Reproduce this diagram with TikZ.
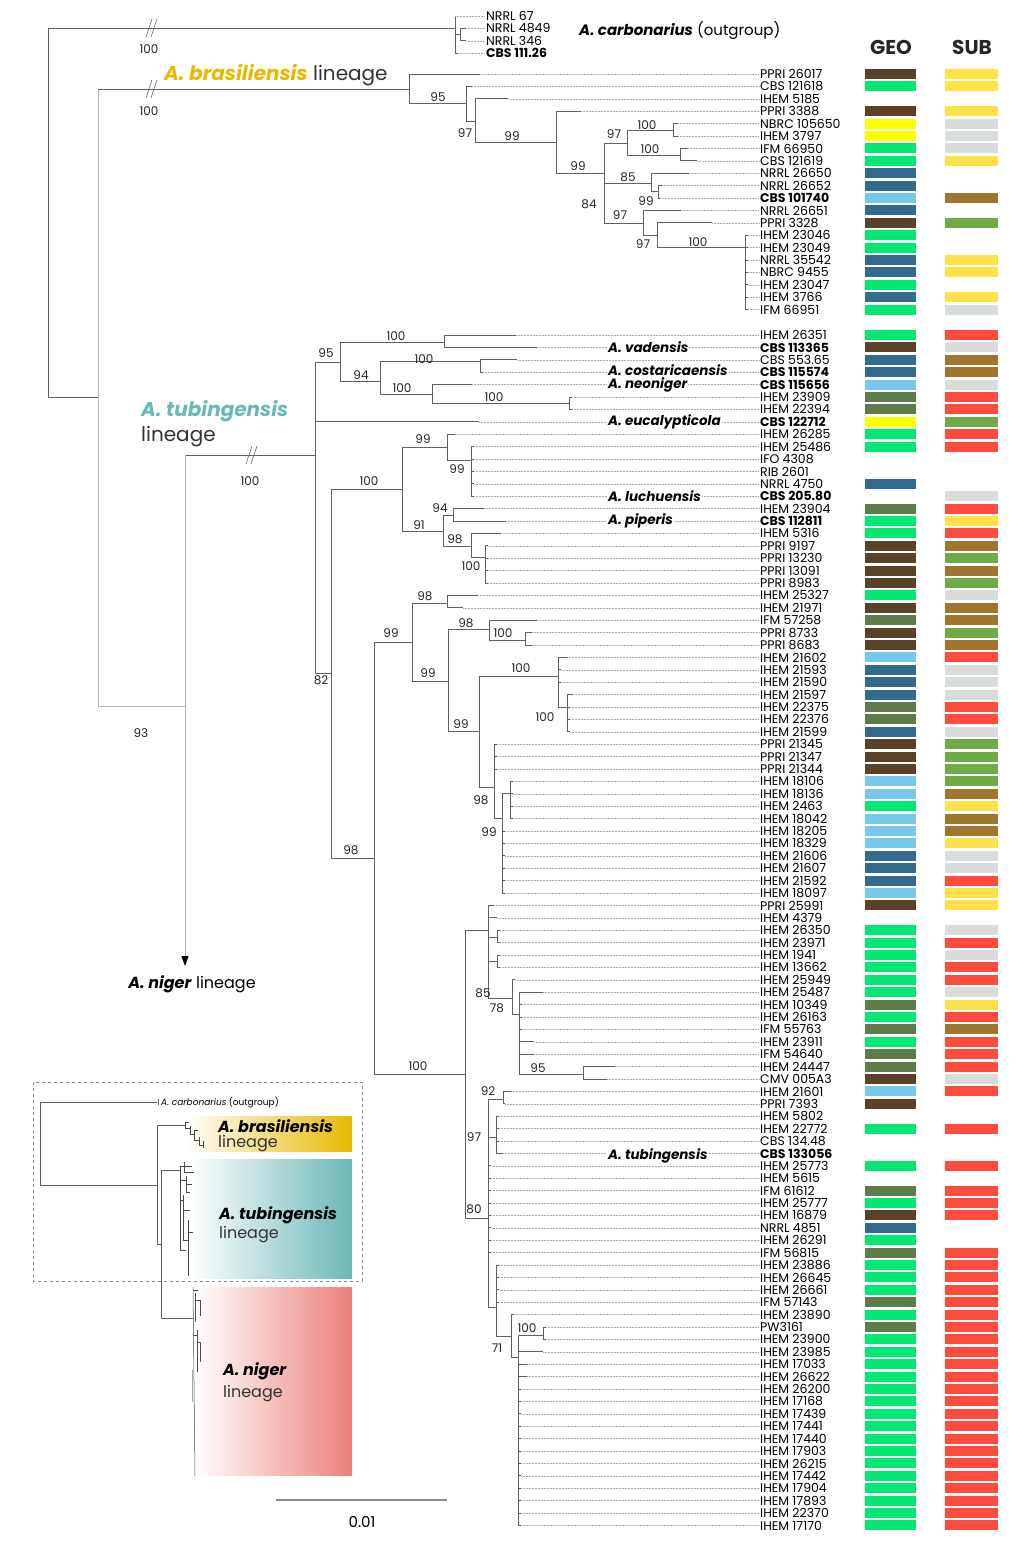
\documentclass[tikz,border=0pt]{standalone}
\usepackage{fontspec}
\setmainfont{Poppins}
\usetikzlibrary{arrows.meta}
\definecolor{gB}{RGB}{92,65,41}
\definecolor{gG}{RGB}{3,232,115}
\definecolor{gY}{RGB}{255,255,0}
\definecolor{gD}{RGB}{51,107,142}
\definecolor{gL}{RGB}{119,200,236}
\definecolor{gO}{RGB}{94,123,74}
\definecolor{sY}{RGB}{255,226,74}
\definecolor{sG}{RGB}{217,221,217}
\definecolor{sO}{RGB}{160,117,46}
\definecolor{sN}{RGB}{110,170,70}
\definecolor{sR}{RGB}{255,75,62}
\definecolor{gold}{RGB}{232,185,0}
\definecolor{teal}{RGB}{107,184,182}
\definecolor{pinkn}{RGB}{236,128,120}
\tikzset{
  br/.style={draw=black!62,line width=0.8pt},
  brl/.style={draw=black!28,line width=0.9pt},
  lead/.style={draw=black!32,line width=0.5pt,dash pattern=on 0.5pt off 1pt},
  leaflbl/.style={anchor=west,inner sep=1pt,font=\fontsize{12.5}{13}\selectfont},
  sup/.style={inner sep=0pt,font=\fontsize{12}{12}\selectfont,text=black!85},
  sp/.style={anchor=west,inner sep=1pt,fill=white,font=\fontsize{13.5}{14}\selectfont\bfseries\itshape},
  mini/.style={draw=black!70,line width=0.5pt},
  brk/.style={draw=black!62,line width=0.6pt}
}
\newcommand\leaf[7]{%
  \node[leaflbl] (#1) at (759,#2) {#5};
  \draw[br] (#3,#2) -- (#4,#2);
  \draw[lead] (#4,#2) -- (#1.west);
  \path[fill=#6] (865,#2-5) rectangle (916,#2+5);
  \path[fill=#7] (945,#2-5) rectangle (998,#2+5);
}
\newcommand\brkmark[2]{%
  \draw[brk] (#1-6,#2+9) -- (#1,#2-9);
  \draw[brk] (#1-1,#2+9) -- (#1+5,#2-9);
}
\begin{document}
\begin{tikzpicture}[x=1pt,y=-1pt]
\useasboundingbox (0,0) rectangle (1023,1547);
\fill[white] (0,0) rectangle (1023,1547);

% ---------- root and stems ----------
\draw[br] (455,28) -- (48,28) -- (48,397) -- (98,397);
\draw[brl] (98,89) -- (98,706) -- (185,706);
\draw[br] (98,89) -- (409,89);
\brkmark{152}{28}
\brkmark{152}{89}
\node[sup] at (149,49) {100};
\node[sup] at (149,111) {100};
\node[sup] at (141,733) {93};

% ---------- outgroup ----------
\draw[br] (455,16) -- (455,53.2);
\draw[br] (455,34.6) -- (460,34.6);
\draw[br] (460,28.4) -- (460,40.8);
\node[leaflbl] (o1) at (485,16) {NRRL 67};
\node[leaflbl] (o2) at (485,28.4) {NRRL 4849};
\node[leaflbl] (o3) at (485,40.8) {NRRL 346};
\node[leaflbl] (o4) at (485,53.2) {\bfseries CBS 111.26};
\draw[lead] (455,16) -- (o1.west);
\draw[lead] (466,28.4) -- (o2.west);
\draw[lead] (466,40.8) -- (o3.west);
\draw[lead] (458,53.2) -- (o4.west);
\draw[br] (460,28.4) -- (466,28.4);
\draw[br] (460,40.8) -- (466,40.8);
\draw[br] (455,53.2) -- (458,53.2);
\node[anchor=west,inner sep=0pt,font=\fontsize{15}{16}\selectfont] (carb) at (579,31) {\textbf{\textit{A. carbonarius}} (outgroup)};

\node[font=\fontsize{20}{20}\selectfont\bfseries,text=black!85] (geo) at (891,47) {GEO};
\node[font=\fontsize{20}{20}\selectfont\bfseries,text=black!85] (sub) at (972,47) {SUB};

% ---------- brasiliensis lineage ----------
\node[anchor=west,inner sep=0pt,font=\fontsize{20}{20}\selectfont] (brl) at (164,75) {\textcolor{gold}{\bfseries\itshape A. brasiliensis} \textcolor{black!80}{lineage}};
\draw[br] (409,74) -- (409,103) -- (466,103);
\draw[br] (466,86.4) -- (466,121) -- (475,121);
\draw[br] (475,98.8) -- (475,142) -- (556,142);
\draw[br] (556,111.2) -- (556,173) -- (604,173);
\draw[br] (604,143) -- (604,223);
\draw[br] (604,143) -- (627,143);
\draw[br] (604,183) -- (651,183);
\draw[br] (604,223) -- (643,223);
\draw[br] (627,130) -- (627,155);
\draw[br] (627,130) -- (673,130);
\draw[br] (627,155) -- (680,155);
\draw[br] (673,123.6) -- (673,136);
\draw[br] (680,148.4) -- (680,160.8);
\draw[br] (651,173.2) -- (651,191) -- (658,191);
\draw[br] (658,185.6) -- (658,198);
\draw[br] (643,210.4) -- (643,235) -- (657,235);
\draw[br] (657,222.8) -- (657,247.6) -- (745,247.6);
\draw[br] (745,235.2) -- (745,309.6);

\leaf{b1}{74}{409}{480}{PPRI 26017}{gB}{sY}
\leaf{b2}{86.4}{466}{472}{CBS 121618}{gG}{sY}
\leaf{b3}{98.8}{475}{508}{IHEM 5185}{none}{none}
\leaf{b4}{111.2}{556}{581}{PPRI 3388}{gB}{sY}
\leaf{b5}{123.6}{673}{678}{NBRC 105650}{gY}{sG}
\leaf{b6}{136}{673}{678}{IHEM 3797}{gY}{sG}
\leaf{b7}{148.4}{680}{688}{IFM 66950}{gG}{sG}
\leaf{b8}{160.8}{680}{697}{CBS 121619}{gG}{sY}
\leaf{b9}{173.2}{651}{689}{NRRL 26650}{gD}{none}
\leaf{b10}{185.6}{658}{662}{NRRL 26652}{gD}{none}
\leaf{b11}{198}{658}{660}{\bfseries CBS 101740}{gL}{sO}
\leaf{b12}{210.4}{643}{681}{NRRL 26651}{gD}{none}
\leaf{b13}{222.8}{657}{712}{PPRI 3328}{gB}{sN}
\leaf{b14}{235.2}{745}{748}{IHEM 23046}{gG}{none}
\leaf{b15}{247.6}{745}{748}{IHEM 23049}{gG}{none}
\leaf{b16}{260}{745}{748}{NRRL 35542}{gD}{sY}
\leaf{b17}{272.4}{745}{748}{NBRC 9455}{gD}{sY}
\leaf{b18}{284.8}{745}{748}{IHEM 23047}{gG}{none}
\leaf{b19}{297.2}{745}{748}{IHEM 3766}{gD}{sY}
\leaf{b20}{309.6}{745}{748}{IFM 66951}{gG}{sG}

\node[sup] at (438,97) {95};
\node[sup] at (465,133) {97};
\node[sup] at (512,136) {99};
\node[sup] at (578,166) {99};
\node[sup] at (614,134) {97};
\node[sup] at (647,125) {100};
\node[sup] at (650,149) {100};
\node[sup] at (628,177) {85};
\node[sup] at (646,201) {99};
\node[sup] at (589,204) {84};
\node[sup] at (620,215) {97};
\node[sup] at (643,244) {97};
\node[sup] at (698,242) {100};

% ---------- tubingensis lineage ----------
\node[anchor=west,inner sep=0pt,font=\fontsize{20}{20}\selectfont\bfseries\itshape,text=teal] (tubt) at (141,411) {A. tubingensis};
\node[anchor=west,inner sep=0pt,font=\fontsize{20}{20}\selectfont,text=black!80] (tubl) at (141,437) {lineage};
\draw[br] (185,455) -- (315,455);
\brkmark{252}{455}
\node[sup] at (250,481) {100};
\draw[brl,-{Triangle[length=10pt,width=7pt,color=black]}] (185,455) -- (185,966);
\node[anchor=north,inner sep=0pt,font=\fontsize{16}{16}\selectfont] (nig) at (192,975) {\textbf{\textit{A. niger}} lineage};

\draw[br] (315,362) -- (315,673);
\draw[br] (315,362) -- (340,362);
\draw[br] (315,673) -- (331,673);
\draw[br] (340,342) -- (340,381);
\draw[br] (340,342) -- (444,342);
\draw[br] (340,381) -- (380,381);
\draw[br] (444,335) -- (444,347.4);
\draw[br] (380,361) -- (380,394);
\draw[br] (380,361) -- (480,361);
\draw[br] (380,394) -- (432,394);
\draw[br] (480,359.8) -- (480,372.2);
\draw[br] (432,384.6) -- (432,403) -- (569,403);
\draw[br] (569,397) -- (569,409.4);
\draw[br] (331,489) -- (331,858);
\draw[br] (331,489) -- (402,489);
\draw[br] (331,858) -- (374,858);
\draw[br] (402,447) -- (402,531);
\draw[br] (402,447) -- (447,447);
\draw[br] (402,531) -- (443,531);
\draw[br] (447,434.2) -- (447,460) -- (471,460);
\draw[br] (471,446.6) -- (471,496.2);
\draw[br] (443,515) -- (443,546);
\draw[br] (443,515) -- (453,515);
\draw[br] (443,546) -- (471,546);
\draw[br] (453,508.6) -- (453,521);
\draw[br] (471,533.4) -- (471,557) -- (485,557);
\draw[br] (485,545.8) -- (485,583);
\draw[br] (374,642) -- (374,1074);
\draw[br] (374,642) -- (412,642);
\draw[br] (374,1074) -- (465,1074);
\draw[br] (412,603) -- (412,681);
\draw[br] (412,603) -- (447,603);
\draw[br] (412,681) -- (448,681);
\draw[br] (447,595.4) -- (447,607.8);
\draw[br] (448,629) -- (448,731);
\draw[br] (448,629) -- (489,629);
\draw[br] (448,731) -- (479,731);
\draw[br] (489,620.2) -- (489,640) -- (525,640);
\draw[br] (525,632.6) -- (525,645);
\draw[br] (479,676) -- (479,787);
\draw[br] (479,676) -- (558,676);
\draw[br] (479,787) -- (494,787);
\draw[br] (558,657.4) -- (558,707) -- (567,707);
\draw[br] (567,694.6) -- (567,731.8);
\draw[br] (494,744.2) -- (494,818) -- (502,818);
\draw[br] (502,793) -- (502,893);
\draw[br] (502,793) -- (510,793);
\draw[br] (510,781.4) -- (510,818.6);
\draw[br] (465,930) -- (465,1218);
\draw[br] (465,930) -- (488,930);
\draw[br] (465,1218) -- (488,1218);
\draw[br] (488,905.4) -- (488,998) -- (512,998);
\draw[br] (488,937) -- (497,937);
\draw[br] (488,961) -- (497,961);
\draw[br] (497,930.2) -- (497,942.6);
\draw[br] (497,955) -- (497,967.4);
\draw[br] (512,979.8) -- (512,1014) -- (519,1014);
\draw[br] (519,992.2) -- (519,1074) -- (583,1074);
\draw[br] (583,1066.6) -- (583,1079);
\draw[br] (488,1099) -- (488,1307);
\draw[br] (488,1099) -- (503,1099);
\draw[br] (488,1137) -- (496,1137);
\draw[br] (488,1307) -- (496,1307);
\draw[br] (503,1091.4) -- (503,1103.8);
\draw[br] (496,1116.2) -- (496,1153.4);
\draw[br] (496,1265) -- (496,1336) -- (511,1336);
\draw[br] (511,1314.6) -- (511,1357) -- (518,1357);
\draw[br] (518,1335) -- (518,1525.4);
\draw[br] (518,1335) -- (543,1335);
\draw[br] (543,1327) -- (543,1339.4);

\leaf{t1}{335}{444}{516}{IHEM 26351}{gG}{sR}
\leaf{t2}{347.4}{444}{537}{\bfseries CBS 113365}{gB}{sG}
\leaf{t3}{359.8}{480}{517}{CBS 553.65}{gD}{sO}
\leaf{t4}{372.2}{480}{483}{\bfseries CBS 115574}{gD}{sO}
\leaf{t5}{384.6}{432}{472}{\bfseries CBS 115656}{gL}{sG}
\leaf{t6}{397}{569}{572}{IHEM 23909}{gO}{sR}
\leaf{t7}{409.4}{569}{572}{IHEM 22394}{gO}{sR}
\leaf{t8}{421.8}{315}{479}{\bfseries CBS 122712}{gY}{sN}
\leaf{t9}{434.2}{447}{455}{IHEM 26285}{gG}{sR}
\leaf{t10}{446.6}{471}{474}{IHEM 25486}{gG}{sR}
\leaf{t11}{459}{471}{474}{IFO 4308}{none}{none}
\leaf{t12}{471.4}{471}{474}{RIB 2601}{none}{none}
\leaf{t13}{483.8}{471}{474}{NRRL 4750}{gD}{none}
\leaf{t14}{496.2}{471}{474}{\bfseries CBS 205.80}{none}{sG}
\leaf{t15}{508.6}{453}{484}{IHEM 23904}{gO}{sR}
\leaf{t16}{521}{453}{506}{\bfseries CBS 112811}{gG}{sY}
\leaf{t17}{533.4}{471}{501}{IHEM 5316}{gG}{sR}
\leaf{t18}{545.8}{485}{488}{PPRI 9197}{gB}{sO}
\leaf{t19}{558.2}{485}{488}{PPRI 13230}{gB}{sN}
\leaf{t20}{570.6}{485}{488}{PPRI 13091}{gB}{sO}
\leaf{t21}{583}{485}{488}{PPRI 8983}{gB}{sN}
\leaf{t22}{595.4}{447}{478}{IHEM 25327}{gG}{sG}
\leaf{t23}{607.8}{447}{463}{IHEM 21971}{gB}{sO}
\leaf{t24}{620.2}{489}{537}{IFM 57258}{gO}{sO}
\leaf{t25}{632.6}{525}{532}{PPRI 8733}{gB}{sN}
\leaf{t26}{645}{525}{532}{PPRI 8683}{gB}{sO}
\leaf{t27}{657.4}{558}{567}{IHEM 21602}{gL}{sR}
\leaf{t28}{669.8}{558}{561}{IHEM 21593}{gD}{sG}
\leaf{t29}{682.2}{558}{561}{IHEM 21590}{gD}{sG}
\leaf{t30}{694.6}{567}{573}{IHEM 21597}{gD}{sG}
\leaf{t31}{707}{567}{570}{IHEM 22375}{gO}{sR}
\leaf{t32}{719.4}{567}{570}{IHEM 22376}{gO}{sR}
\leaf{t33}{731.8}{567}{570}{IHEM 21599}{gD}{sG}
\leaf{t34}{744.2}{494}{497}{PPRI 21345}{gB}{sN}
\leaf{t35}{756.6}{494}{497}{PPRI 21347}{gB}{sN}
\leaf{t36}{769}{494}{497}{PPRI 21344}{gB}{sN}
\leaf{t37}{781.4}{510}{513}{IHEM 18106}{gL}{sN}
\leaf{t38}{793.8}{510}{513}{IHEM 18136}{gL}{sO}
\leaf{t39}{806.2}{510}{513}{IHEM 2463}{gG}{sY}
\leaf{t40}{818.6}{510}{513}{IHEM 18042}{gL}{sO}
\leaf{t41}{831}{502}{505}{IHEM 18205}{gL}{sO}
\leaf{t42}{843.4}{502}{505}{IHEM 18329}{gL}{sY}
\leaf{t43}{855.8}{502}{505}{IHEM 21606}{gD}{sG}
\leaf{t44}{868.2}{502}{505}{IHEM 21607}{gD}{sG}
\leaf{t45}{880.6}{502}{505}{IHEM 21592}{gD}{sR}
\leaf{t46}{893}{502}{505}{IHEM 18097}{gL}{sY}
\leaf{t47}{905.4}{488}{494}{PPRI 25991}{gB}{sY}
\leaf{t48}{917.8}{488}{497}{IHEM 4379}{none}{none}
\leaf{t49}{930.2}{497}{500}{IHEM 26350}{gG}{sG}
\leaf{t50}{942.6}{497}{500}{IHEM 23971}{gG}{sR}
\leaf{t51}{955}{497}{500}{IHEM 1941}{gG}{sG}
\leaf{t52}{967.4}{497}{500}{IHEM 13662}{gG}{sR}
\leaf{t53}{979.8}{512}{515}{IHEM 25949}{gG}{sR}
\leaf{t54}{992.2}{519}{543}{IHEM 25487}{gG}{sG}
\leaf{t55}{1004.6}{519}{522}{IHEM 10349}{gO}{sY}
\leaf{t56}{1017}{519}{522}{IHEM 26163}{gG}{sR}
\leaf{t57}{1029.4}{519}{522}{IFM 55763}{gO}{sO}
\leaf{t58}{1041.8}{519}{534}{IHEM 23911}{gG}{sR}
\leaf{t59}{1054.2}{519}{534}{IFM 54640}{gO}{sR}
\leaf{t60}{1066.6}{583}{615}{IHEM 24447}{gO}{sR}
\leaf{t61}{1079}{583}{607}{CMV 005A3}{gB}{sG}
\leaf{t62}{1091.4}{503}{511}{IHEM 21601}{gL}{sR}
\leaf{t63}{1103.8}{503}{505}{PPRI 7393}{gB}{none}
\leaf{t64}{1116.2}{496}{499}{IHEM 5802}{none}{none}
\leaf{t65}{1128.6}{496}{499}{IHEM 22772}{gG}{sR}
\leaf{t66}{1141}{496}{499}{CBS 134.48}{none}{none}
\leaf{t67}{1153.4}{496}{503}{\bfseries CBS 133056}{none}{none}
\leaf{t68}{1165.8}{488}{491}{IHEM 25773}{gG}{sR}
\leaf{t69}{1178.2}{488}{491}{IHEM 5615}{none}{none}
\leaf{t70}{1190.6}{488}{491}{IFM 61612}{gO}{sR}
\leaf{t71}{1203}{488}{491}{IHEM 25777}{gG}{sR}
\leaf{t72}{1215.4}{488}{491}{IHEM 16879}{gB}{sR}
\leaf{t73}{1227.8}{488}{491}{NRRL 4851}{gD}{none}
\leaf{t74}{1240.2}{488}{491}{IHEM 26291}{gG}{none}
\leaf{t75}{1252.6}{488}{491}{IFM 56815}{gO}{sR}
\leaf{t76}{1265}{496}{499}{IHEM 23886}{gG}{sR}
\leaf{t77}{1277.4}{496}{499}{IHEM 26645}{gG}{sR}
\leaf{t78}{1289.8}{496}{499}{IHEM 26661}{gG}{sR}
\leaf{t79}{1302.2}{496}{499}{IFM 57143}{gO}{sR}
\leaf{t80}{1314.6}{511}{514}{IHEM 23890}{gG}{sR}
\leaf{t81}{1327}{543}{546}{PW3161}{gO}{sR}
\leaf{t82}{1339.4}{543}{546}{IHEM 23900}{gG}{sR}
\leaf{t83}{1351.8}{518}{543}{IHEM 23985}{gG}{sR}
\leaf{t84}{1364.2}{518}{527}{IHEM 17033}{gG}{sR}
\leaf{t85}{1376.6}{518}{527}{IHEM 26622}{gG}{sR}
\leaf{t86}{1389}{518}{521}{IHEM 26200}{gG}{sR}
\leaf{t87}{1401.4}{518}{521}{IHEM 17168}{gG}{sR}
\leaf{t88}{1413.8}{518}{521}{IHEM 17439}{gG}{sR}
\leaf{t89}{1426.2}{518}{521}{IHEM 17441}{gG}{sR}
\leaf{t90}{1438.6}{518}{521}{IHEM 17440}{gG}{sR}
\leaf{t91}{1451}{518}{521}{IHEM 17903}{gG}{sR}
\leaf{t92}{1463.4}{518}{521}{IHEM 26215}{gG}{sR}
\leaf{t93}{1475.8}{518}{521}{IHEM 17442}{gG}{sR}
\leaf{t94}{1488.2}{518}{521}{IHEM 17904}{gG}{sR}
\leaf{t95}{1500.6}{518}{521}{IHEM 17893}{gG}{sR}
\leaf{t96}{1513}{518}{521}{IHEM 22370}{gG}{sR}
\leaf{t97}{1525.4}{518}{521}{IHEM 17170}{gG}{sR}

% species names
\node[sp] (vad) at (607,347) {A. vadensis};
\node[sp] (cos) at (607,370) {A. costaricaensis};
\node[sp] (neo) at (607,385) {A. neoniger};
\node[sp] (euc) at (607,422) {A. eucalypticola};
\node[sp] (luc) at (607,496) {A. luchuensis};
\node[sp] (pip) at (607,521) {A. piperis};
\node[sp] (tub) at (607,1156) {A. tubingensis};

% supports
\node[sup] at (396,336) {100};
\node[sup] at (326,353) {95};
\node[sup] at (424,359) {100};
\node[sup] at (361,375) {94};
\node[sup] at (402,388) {100};
\node[sup] at (494,397) {100};
\node[sup] at (423,439) {99};
\node[sup] at (457,469) {99};
\node[sup] at (369,481) {100};
\node[sup] at (440,508) {94};
\node[sup] at (419,525) {91};
\node[sup] at (455,539) {98};
\node[sup] at (471,566) {100};
\node[sup] at (425,596) {98};
\node[sup] at (466,623) {98};
\node[sup] at (503,633) {100};
\node[sup] at (391,633) {99};
\node[sup] at (521,668) {100};
\node[sup] at (428,673) {99};
\node[sup] at (321,680) {82};
\node[sup] at (545,717) {100};
\node[sup] at (461,724) {99};
\node[sup] at (481,800) {98};
\node[sup] at (489,832) {99};
\node[sup] at (351,850) {98};
\node[sup] at (483,993) {85};
\node[sup] at (497,1008) {78};
\node[sup] at (418,1066) {100};
\node[sup] at (538,1068) {95};
\node[sup] at (488,1091) {92};
\node[sup] at (474,1137) {97};
\node[sup] at (474,1209) {80};
\node[sup] at (527,1328) {100};
\node[sup] at (497,1348) {71};

% ---------- inset ----------
\shade[left color=white,right color=gold] (185,1116) rectangle (352,1151);
\shade[left color=white,right color=teal] (190,1159) rectangle (352,1278);
\shade[left color=white,right color=pinkn] (195,1287) rectangle (352,1475);
\draw[black!45,dashed,line width=0.6pt] (33,1082) rectangle (362,1281);
\draw[br] (157,1102) -- (40,1102) -- (40,1185) -- (157,1185);
\draw[br] (185,1125) -- (157,1125) -- (157,1244) -- (161,1244);
\draw[br] (180,1170) -- (161,1170) -- (161,1318) -- (193,1318);
\draw[br] (158,1099) -- (158,1105);
\node[anchor=west,inner sep=0pt,font=\fontsize{9}{9}\selectfont] (icarb) at (161,1102) {\textit{A. carbonarius} (outgroup)};
% mini brasiliensis
\draw[mini] (185,1122) -- (185,1128);
\draw[mini] (185,1122) -- (189,1122);
\draw[mini] (185,1128) -- (190,1128);
\draw[mini] (190,1126) -- (190,1134) -- (194,1134);
\draw[mini] (194,1130) -- (194,1140);
\draw[mini] (194,1130) -- (198,1130);
\draw[mini] (194,1140) -- (199,1140);
\draw[mini] (199,1137) -- (199,1145) -- (203,1145);
\draw[mini] (203,1141) -- (203,1148);
% mini tubingensis
\draw[mini] (180,1166) -- (180,1250);
\draw[mini] (180,1166) -- (192,1166);
\draw[mini] (184,1162) -- (184,1172) -- (194,1172);
\draw[mini] (180,1180) -- (186,1180);
\draw[mini] (186,1176) -- (186,1192) -- (190,1192);
\draw[mini] (186,1184) -- (192,1184);
\draw[mini] (180,1200) -- (183,1200);
\draw[mini] (183,1195) -- (183,1240) -- (188,1240);
\draw[mini] (183,1210) -- (190,1210);
\draw[mini] (188,1220) -- (188,1276);
\draw[mini] (188,1232) -- (193,1232);
\draw[mini] (180,1250) -- (186,1250);
% mini niger
\draw[mini] (193,1287) -- (195,1476);
\draw[mini] (193,1290) -- (198,1290);
\draw[mini] (195,1293) -- (195,1322);
\draw[mini] (195,1300) -- (200,1300) -- (200,1316);
\draw[mini] (194,1335) -- (198,1335);
\draw[mini] (197,1330) -- (197,1372);
\draw[mini] (197,1342) -- (200,1342) -- (200,1362);
\draw[black!35,line width=0.8pt] (192,1370) -- (192,1402);
\node[anchor=west,inner sep=0pt,font=\fontsize{16}{16}\selectfont\bfseries\itshape] (ibra) at (218,1126) {A. brasiliensis};
\node[anchor=west,inner sep=0pt,font=\fontsize{16}{16}\selectfont,text=black!80] (ibral) at (218,1144) {lineage};
\node[anchor=west,inner sep=0pt,font=\fontsize{16}{16}\selectfont\bfseries\itshape] (itub) at (219,1215) {A. tubingensis};
\node[anchor=west,inner sep=0pt,font=\fontsize{16}{16}\selectfont,text=black!80] (itubl) at (219,1235) {lineage};
\node[anchor=west,inner sep=0pt,font=\fontsize{16}{16}\selectfont\bfseries\itshape] (inig) at (223,1371) {A. niger};
\node[anchor=west,inner sep=0pt,font=\fontsize{16}{16}\selectfont,text=black!80] (inigl) at (223,1394) {lineage};
% scale bar
\draw[black!45,line width=1.2pt] (276,1500) -- (447,1500);
\node[font=\fontsize{15}{15}\selectfont] (scl) at (362,1522) {0.01};
\end{tikzpicture}
\end{document}
